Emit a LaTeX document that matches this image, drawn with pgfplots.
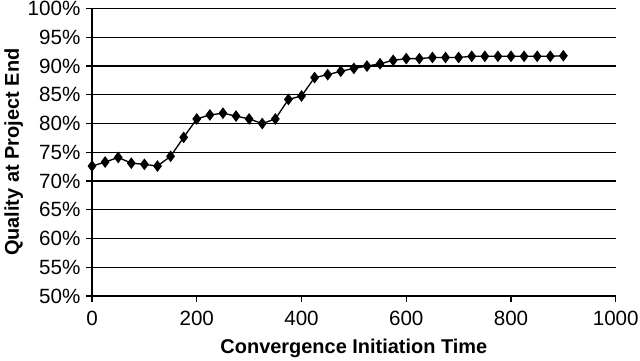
\documentclass[border=0pt]{standalone}
\usepackage{fontspec}
\setmainfont{Liberation Sans}
\usepackage{pgfplots}
\pgfplotsset{compat=1.18}
\begin{document}
\begin{tikzpicture}
\begin{axis}[
  scale only axis,
  width=393.75pt, height=216pt,
  xmin=0, xmax=1000, ymin=50, ymax=100,
  xtick={0,200,...,1000},
  ytick={50,55,...,100},
  yticklabel={\pgfmathprintnumber{\tick}\%},
  /pgf/number format/1000 sep={},
  axis x line=bottom, axis y line=left,
  axis line style={-, line width=1.1pt},
  tick style={black, line width=1pt},
  tick align=outside,
  major tick length=4.5pt,
  ymajorgrids,
  grid style={black, line width=1pt},
  every tick label/.append style={font=\fontsize{15.5}{17}\selectfont, inner xsep=1pt, inner ysep=1pt},
  xticklabel style={yshift=-5.5pt},
  yticklabel style={xshift=-3pt},
  /pgf/number format/assume math mode=true,
  xlabel={\textbf{Convergence Initiation Time}},
  ylabel={\textbf{Quality at Project End}},
  label style={font=\fontsize{15}{17}\selectfont},
  xlabel style={yshift=-7pt, inner ysep=2pt},
  ylabel style={yshift=-1pt},
  clip=false,
]
\addplot[black, line width=1pt, mark=diamond*, mark size=3.6pt] coordinates {
(0,72.6) (25,73.3) (50,74.1) (75,73.1) (100,72.9) (125,72.6) (150,74.3)
(175,77.6) (200,80.8) (225,81.5) (250,81.8) (275,81.3) (300,80.8) (325,80.0)
(350,80.8) (375,84.2) (400,84.8) (425,88.0) (450,88.5) (475,89.1) (500,89.6)
(525,90.0) (550,90.4) (575,91.0) (600,91.3) (625,91.3) (650,91.5) (675,91.5)
(700,91.5) (725,91.7) (750,91.7) (775,91.7) (800,91.7) (825,91.7) (850,91.7)
(875,91.7) (900,91.8)
};
\end{axis}
\end{tikzpicture}
\end{document}
